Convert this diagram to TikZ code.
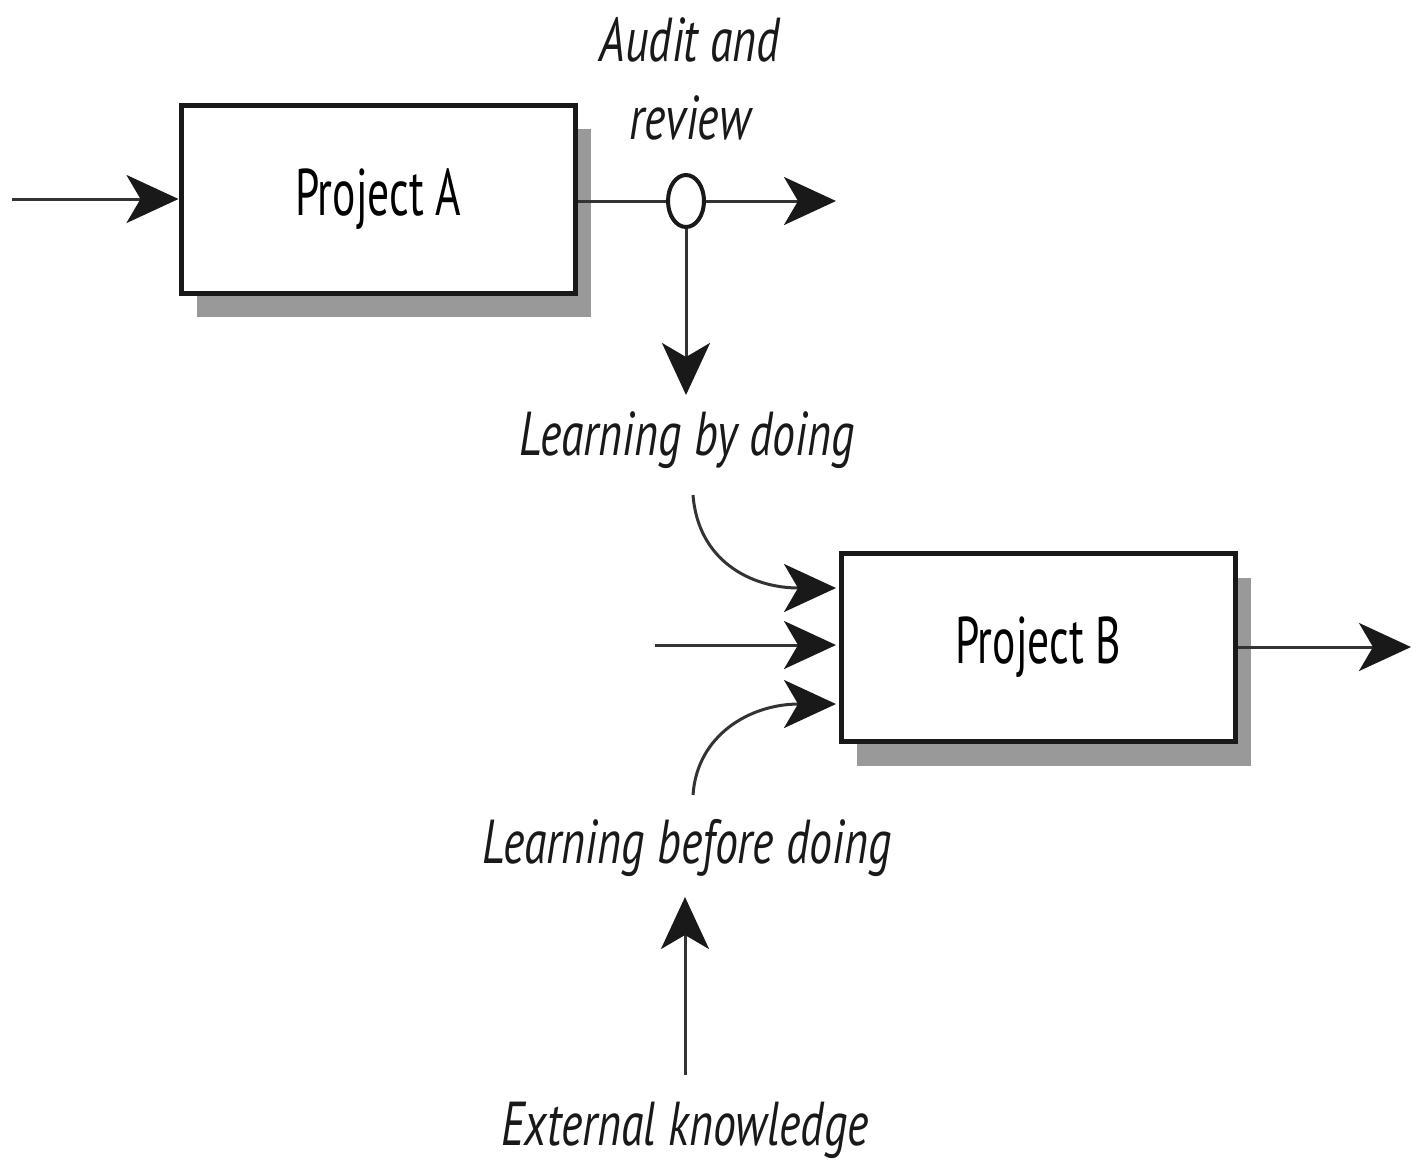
\documentclass[tikz,border=0pt]{standalone}
\usepackage{fontspec}
\newfontfamily\labfont[FakeStretch=0.66]{PT Sans}
\newfontfamily\itlabfont[FakeStretch=0.74]{PT Sans Italic}
\usetikzlibrary{arrows.meta,shapes.geometric}
\begin{document}
\begin{tikzpicture}[x=0.5pt,y=-0.5pt,
  box/.style={draw=black!90, line width=2.5pt, fill=white, minimum width=197pt, minimum height=94pt, inner sep=0pt,
    font=\labfont\fontsize{33}{36}\selectfont},
  shadowbox/.style={fill=black!40, draw=none, minimum width=197pt, minimum height=94pt, inner sep=0pt},
  lab/.style={font=\itlabfont\fontsize{31}{39}\selectfont, align=center, inner sep=0pt, text=black!90},
  conn/.style={line width=1.5pt, draw=black!80},
  arr/.style={conn, -{Stealth[length=26pt, width=24pt, inset=7pt, fill=black!90, color=black!90]}},
  junction/.style={ellipse, draw=black!90, line width=2pt, fill=white, minimum width=18pt, minimum height=26pt, inner sep=0pt}
]
\useasboundingbox (0,0) rectangle (1412,1164);
% shadows
\node[shadowbox] (Ash) at (394,223) {};
\node[shadowbox] (Bsh) at (1054,672) {};
% boxes
\node[box] (A) at (378,199) {Project A};
\node[box] (B) at (1038,647) {Project B};
% junction
\node[junction] (J) at (686,201) {};
% labels
\node[lab] (audit) at (690,79) {Audit and\\review};
\node[lab] (lbd) at (687,440) {Learning by doing};
\node[lab] (lbfd) at (687,848) {Learning before doing};
\node[lab] (ek) at (685,1130) {External knowledge};
% coordinates
\coordinate (ain) at (12,199);
\coordinate (aout) at (836,201);
\coordinate (adown) at (686,395);
\coordinate (c1s) at (693,495);
\coordinate (c1e) at (836,588);
\coordinate (b2s) at (655,645);
\coordinate (b2e) at (836,645);
\coordinate (c3s) at (693,795);
\coordinate (c3e) at (836,704);
\coordinate (bout) at (1411,647);
\coordinate (ups) at (685,1075);
\coordinate (upe) at (685,897);
% connectors
\draw[arr] (ain) -- (A.west);
\draw[conn] (A.east |- J) -- (J.west);
\draw[arr] (J.east) -- (aout);
\draw[arr] (J.south) -- (adown);
\draw[arr] (c1s) .. controls (698,560) and (750,588) .. (c1e);
\draw[arr] (b2s) -- (b2e);
\draw[arr] (c3s) .. controls (697,735) and (750,704) .. (c3e);
\draw[arr] (B.east |- bout) -- (bout);
\draw[arr] (ups) -- (upe);
\end{tikzpicture}
\end{document}
